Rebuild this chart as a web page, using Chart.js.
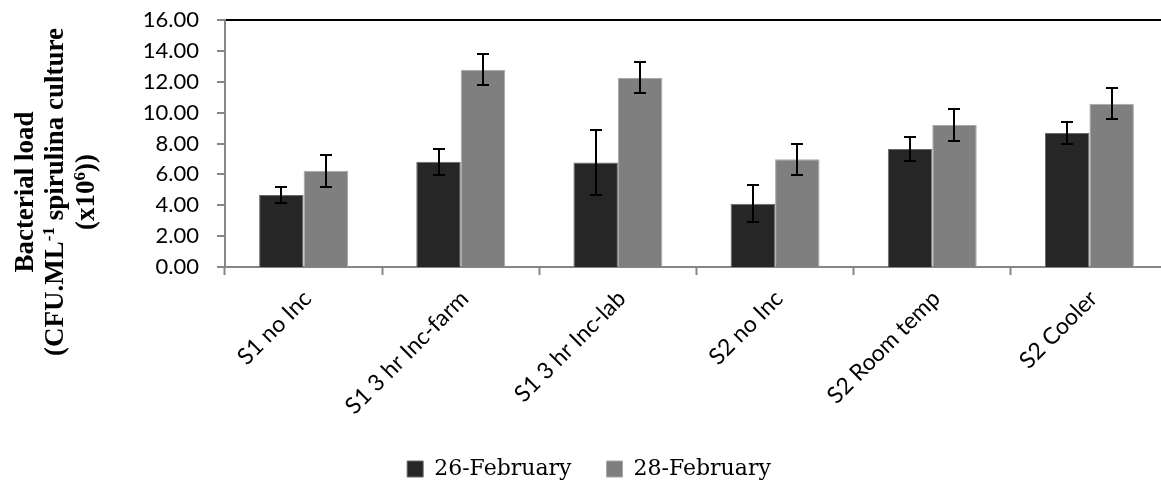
<!DOCTYPE html>
<html><head><meta charset="utf-8">
<script src="https://cdn.jsdelivr.net/npm/chart.js@4.4.1/dist/chart.umd.min.js"></script>
<style>html,body{margin:0;padding:0;background:#fff;overflow:hidden}
#wrap{position:relative;width:1170px;height:484px}</style>
</head><body><div id="wrap"><canvas id="c"></canvas></div>
<script>
const categories = ['S1 no Inc', 'S1 3 hr Inc-farm', 'S1 3 hr Inc-lab', 'S2 no Inc', 'S2 Room temp', 'S2 Cooler'];
const seriesNames = ['26-February', '28-February'];
const feb26 = [4.67, 6.81, 6.77, 4.10, 7.64, 8.68];
const feb26Err = [0.53, 0.85, 2.10, 1.18, 0.75, 0.70];
const feb28 = [6.24, 12.77, 12.25, 6.98, 9.20, 10.58];
const feb28Err = [1.03, 1.01, 1.01, 1.01, 1.01, 1.00];
const yTickValues = [0, 2, 4, 6, 8, 10, 12, 14, 16];
const yTitleLines = [
  [{ t: 'Bacterial load' }],
  [{ t: '(CFU.ML' }, { t: '-1', sup: true }, { t: ' spirulina culture' }],
  [{ t: '(x10' }, { t: '6', sup: true }, { t: '))' }]
];

const errors = [feb26Err, feb28Err];

const errorBarPlugin = {
  id: 'errorBars',
  afterDatasetsDraw(chart) {
    const ctx = chart.ctx;
    const y = chart.scales.y;
    ctx.save();
    ctx.strokeStyle = '#000';
    ctx.lineWidth = 2;
    chart.data.datasets.forEach((ds, di) => {
      const meta = chart.getDatasetMeta(di);
      meta.data.forEach((bar, i) => {
        const v = ds.data[i], e = errors[di][i];
        const yt = Math.round(y.getPixelForValue(v + e));
        const yb = Math.round(y.getPixelForValue(v - e));
        const x = Math.round(bar.x);
        const cw = 6;
        ctx.beginPath();
        ctx.moveTo(x, yt); ctx.lineTo(x, yb);
        ctx.moveTo(x - cw, yt); ctx.lineTo(x + cw, yt);
        ctx.moveTo(x - cw, yb); ctx.lineTo(x + cw, yb);
        ctx.stroke();
      });
    });
    ctx.restore();
  }
};

// Vertical axis title with real superscripts
const yTitlePlugin = {
  id: 'yTitle',
  afterDraw(chart) {
    const ctx = chart.ctx;
    const size = 27, supSize = 17, supRise = 9;
    const main = 'bold ' + size + 'px "Liberation Serif"';
    const sup = 'bold ' + supSize + 'px "Liberation Serif"';
    const baselines = [33, 63, 94];
    const centerY = 192;
    ctx.save();
    ctx.fillStyle = '#000';
    ctx.textBaseline = 'alphabetic';
    ctx.textAlign = 'left';
    yTitleLines.forEach((segs, li) => {
      let w = 0;
      segs.forEach(s => { ctx.font = s.sup ? sup : main; w += ctx.measureText(s.t).width; });
      ctx.save();
      ctx.translate(baselines[li], centerY);
      ctx.rotate(-Math.PI / 2);
      let x = -w / 2;
      segs.forEach(s => {
        ctx.font = s.sup ? sup : main;
        ctx.fillText(s.t, x, s.sup ? -supRise : 0);
        x += ctx.measureText(s.t).width;
      });
      ctx.restore();
    });
    ctx.restore();
  }
};

new Chart(document.getElementById('c'), {
  type: 'bar',
  data: {
    labels: categories,
    datasets: [
      { label: seriesNames[0], data: feb26, backgroundColor: '#262626', borderColor: '#6a6a6a', borderWidth: 1 },
      { label: seriesNames[1], data: feb28, backgroundColor: '#7f7f7f', borderColor: '#a8a8a8', borderWidth: 1 }
    ]
  },
  options: {
    responsive: true,
    maintainAspectRatio: false,
    animation: false,
    layout: { padding: { left: 10, right: 2, top: 20, bottom: -6 } },
    datasets: { bar: { categoryPercentage: 0.566, barPercentage: 1.0 } },
    plugins: {
      legend: {
        position: 'bottom',
        labels: {
          boxWidth: 16, boxHeight: 16, padding: 35,
          color: '#000',
          font: { family: 'DejaVu Serif', size: 22 }
        }
      },
      tooltip: { enabled: false }
    },
    scales: {
      x: {
        grid: { offset: true, drawOnChartArea: false, tickLength: 8, tickColor: '#868686', tickWidth: 2 },
        border: { color: '#868686', width: 2 },
        ticks: { maxRotation: 45, minRotation: 45, color: '#000', padding: 10, labelOffset: 4, font: { family: 'Lato', size: 23 } },
        afterFit(s) { s.height = 156; }
      },
      y: {
        min: 0, max: 16,
        afterBuildTicks(s) { s.ticks = yTickValues.map(v => ({ value: v })); },
        grid: {
          drawOnChartArea: true,
          color: c => (c.tick && c.tick.value === 16) ? '#000' : 'rgba(0,0,0,0)',
          lineWidth: c => (c.tick && c.tick.value === 16) ? 2 : 0,
          tickColor: '#868686', tickLength: 8, tickWidth: 2
        },
        border: { color: '#868686', width: 2 },
        ticks: { color: '#000', padding: 18, font: { family: 'Lato', size: 22 }, callback: v => Number(v).toFixed(2) },
        title: { display: false },
        afterFit(s) { s.width = 215; s.paddingTop = 0; s.paddingBottom = 0; }
      }
    }
  },
  plugins: [errorBarPlugin, yTitlePlugin]
});
</script></body></html>
